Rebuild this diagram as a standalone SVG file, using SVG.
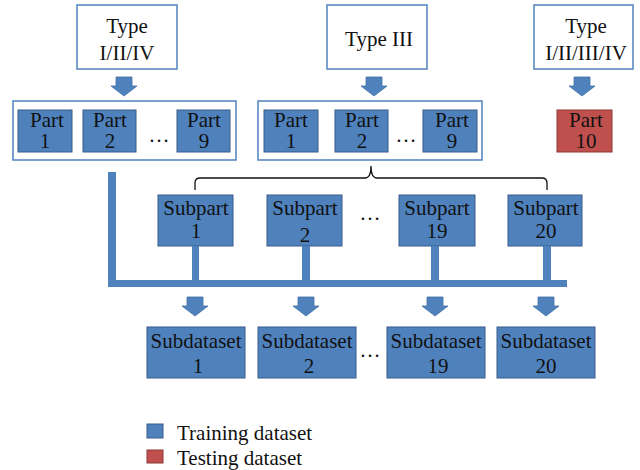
<svg xmlns="http://www.w3.org/2000/svg" width="640" height="470" viewBox="0 0 640 470">
  <style>
    text { font-family: "Liberation Serif", "Times New Roman", serif; font-size: 21px; fill: #111; text-anchor: middle; }
    .type { fill: #fff; stroke: #4F81BD; stroke-width: 1.5; }
    .group { fill: #fff; stroke: #4F81BD; stroke-width: 1.5; }
    .train { fill: #4F81BD; stroke: #385D8A; stroke-width: 1; }
    .test { fill: #C0504D; stroke: #8C3836; stroke-width: 1; }
    .arrow { fill: #4F81BD; stroke: #416FA6; stroke-width: 0.8; }
    .bar { fill: #4F81BD; }
    .brace { fill: none; stroke: #111; stroke-width: 1.3; }
    .dots { letter-spacing: 2px; }
    .legend { text-anchor: start; }
  </style>
  <defs>
    <!-- block arrow pointing down, origin at top-left of a 26x19 cell -->
    <path id="down" d="M5,0 H21 V9 H26 L13,19 L0,9 H5 Z"/>
  </defs>

  <!-- top row: type sources -->
  <g id="type-124">
    <rect class="type" x="77" y="5" width="100" height="64"/>
    <text x="127" y="33">Type</text>
    <text x="127" y="60">I/II/IV</text>
  </g>
  <g id="type-3">
    <rect class="type" x="327" y="5" width="100" height="64"/>
    <text x="379" y="46">Type III</text>
  </g>
  <g id="type-all">
    <rect class="type" x="534" y="5" width="99" height="64"/>
    <text x="586" y="33">Type</text>
    <text x="586" y="60">I/II/III/IV</text>
  </g>

  <!-- part groups -->
  <g id="parts-124">
    <rect class="group" x="13" y="101" width="223" height="59"/>
    <rect class="train" x="18" y="110" width="54" height="42"/>
    <text x="47" y="127">Part</text>
    <text x="45" y="148">1</text>
    <rect class="train" x="83" y="110" width="53" height="42"/>
    <text x="110" y="127">Part</text>
    <text x="110" y="148">2</text>
    <text class="dots" x="160" y="142">…</text>
    <rect class="train" x="177" y="110" width="53" height="42"/>
    <text x="204" y="127">Part</text>
    <text x="204" y="148">9</text>
  </g>
  <g id="parts-3">
    <rect class="group" x="258" y="101" width="224" height="59"/>
    <rect class="train" x="264" y="110" width="54" height="42"/>
    <text x="291" y="127">Part</text>
    <text x="291" y="148">1</text>
    <rect class="train" x="335" y="110" width="53" height="42"/>
    <text x="362" y="127">Part</text>
    <text x="362" y="148">2</text>
    <text class="dots" x="407" y="142">…</text>
    <rect class="train" x="423" y="110" width="54" height="42"/>
    <text x="452" y="127">Part</text>
    <text x="452" y="148">9</text>
  </g>
  <g id="part-10">
    <rect class="test" x="557" y="110" width="55" height="42"/>
    <text x="586" y="127">Part</text>
    <text x="586" y="148">10</text>
  </g>

  <!-- subparts -->
  <g id="subpart-1">
    <rect class="train" x="158" y="195" width="75" height="51"/>
    <text x="196" y="215">Subpart</text>
    <text x="196" y="238">1</text>
  </g>
  <g id="subpart-2">
    <rect class="train" x="267" y="195" width="75" height="51"/>
    <text x="305" y="215">Subpart</text>
    <text x="305" y="242">2</text>
  </g>
  <text class="dots" x="371" y="220">…</text>
  <g id="subpart-19">
    <rect class="train" x="399" y="195" width="76" height="51"/>
    <text x="437" y="215">Subpart</text>
    <text x="437" y="238">19</text>
  </g>
  <g id="subpart-20">
    <rect class="train" x="508" y="195" width="74" height="51"/>
    <text x="546" y="215">Subpart</text>
    <text x="546" y="238">20</text>
  </g>

  <!-- subdatasets -->
  <g id="subdataset-1">
    <rect class="train" x="147" y="327" width="98" height="51"/>
    <text x="196" y="348">Subdataset</text>
    <text x="198" y="373">1</text>
  </g>
  <g id="subdataset-2">
    <rect class="train" x="258" y="327" width="98" height="51"/>
    <text x="307" y="348">Subdataset</text>
    <text x="309" y="373">2</text>
  </g>
  <text class="dots" x="371" y="357">…</text>
  <g id="subdataset-19">
    <rect class="train" x="387" y="327" width="98" height="51"/>
    <text x="436" y="348">Subdataset</text>
    <text x="438" y="373">19</text>
  </g>
  <g id="subdataset-20">
    <rect class="train" x="497" y="327" width="98" height="51"/>
    <text x="546" y="348">Subdataset</text>
    <text x="546" y="373">20</text>
  </g>

  <!-- connectors -->
  <g id="connectors">
    <use href="#down" class="arrow" x="111" y="77"/>
    <use href="#down" class="arrow" x="361" y="77"/>
    <use href="#down" class="arrow" x="569" y="77"/>

    <!-- brace spanning the subparts -->
    <path class="brace" d="M195,190 V183 Q195,178 200,178 H365 Q371,178 371,166 Q371,178 377,178 H542 Q547,178 547,183 V190"/>

    <!-- collecting rail -->
    <rect class="bar" x="108" y="172" width="8" height="115"/>
    <rect class="bar" x="108" y="280" width="459" height="7"/>
    <rect class="bar" x="192" y="246" width="7" height="34"/>
    <rect class="bar" x="302" y="246" width="8" height="34"/>
    <rect class="bar" x="431" y="246" width="8" height="34"/>
    <rect class="bar" x="543" y="246" width="8" height="34"/>

    <use href="#down" class="arrow" x="182" y="297"/>
    <use href="#down" class="arrow" x="293" y="297"/>
    <use href="#down" class="arrow" x="422" y="297"/>
    <use href="#down" class="arrow" x="533" y="297"/>
  </g>

  <!-- legend -->
  <g id="legend">
    <rect class="train" x="147" y="424" width="16" height="14"/>
    <text class="legend" x="177" y="440">Training dataset</text>
    <rect class="test" x="147" y="450" width="16" height="13"/>
    <text class="legend" x="177" y="465">Testing dataset</text>
  </g>
</svg>
